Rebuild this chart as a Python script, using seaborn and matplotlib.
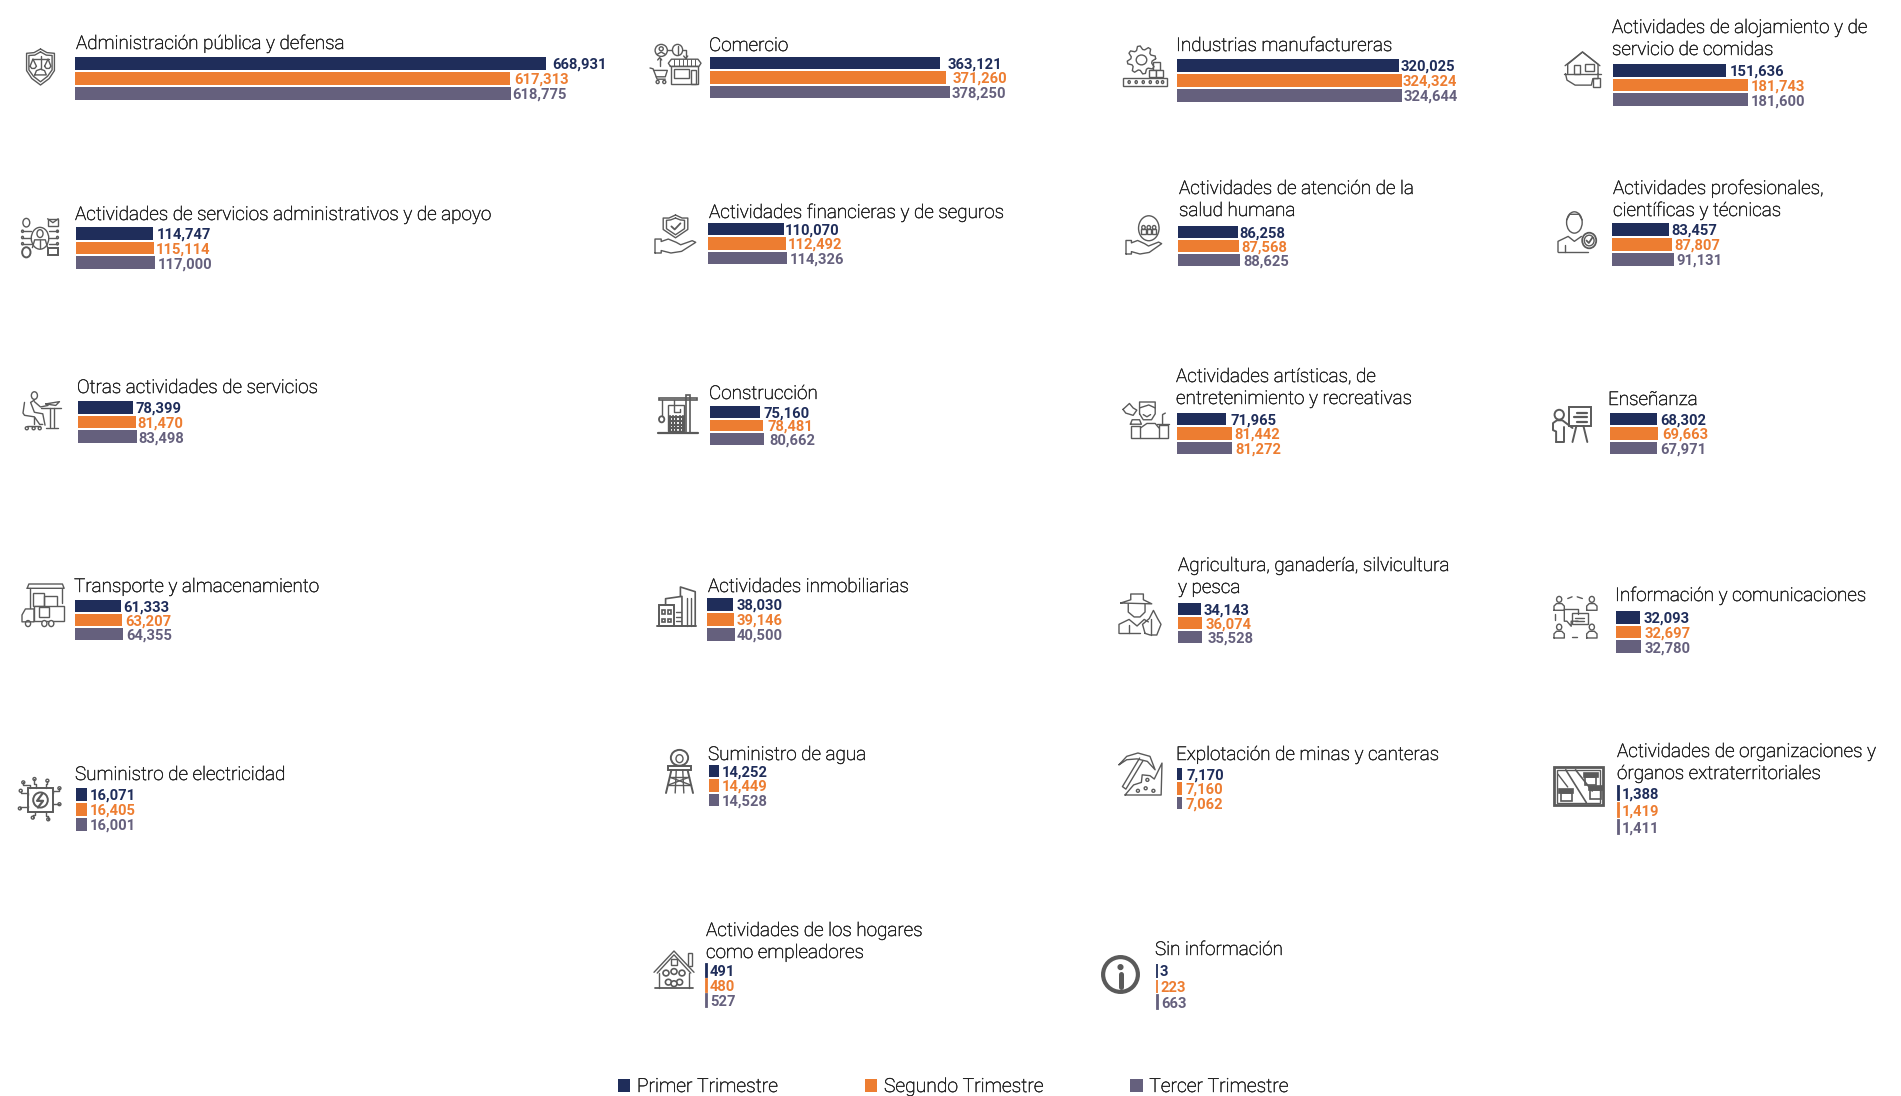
#!/usr/bin/env python3
# -*- coding: utf-8 -*-
"""
Personas ocupadas por actividad economica, tres trimestres
One small bar panel per sector, with a line icon on its left
"""

import numpy as np
import matplotlib
matplotlib.use('Agg')
import matplotlib.pyplot as plt
import matplotlib.patheffects as pe
from matplotlib.patches import Ellipse, Patch, Rectangle
import pandas as pd
import seaborn as sns

sns.set_theme(style='white')
plt.rcParams['font.family'] = ['Roboto', 'DejaVu Sans']

W, H = 1901, 1096

# --------------------------------------------------
# Data
# --------------------------------------------------
quarters = ['Primer Trimestre', 'Segundo Trimestre', 'Tercer Trimestre']
colors = ['#1F2D5A', '#ED7D31', '#65607D']

sectors = [
    'Administración pública y defensa', 'Comercio', 'Industrias manufactureras',
    'Actividades de alojamiento y de\nservicio de comidas',
    'Actividades de servicios administrativos y de apoyo',
    'Actividades financieras y de seguros',
    'Actividades de atención de la\nsalud humana',
    'Actividades profesionales,\ncientíficas y técnicas',
    'Otras actividades de servicios', 'Construcción',
    'Actividades artísticas, de\nentretenimiento y recreativas', 'Enseñanza',
    'Transporte y almacenamiento', 'Actividades inmobiliarias',
    'Agricultura, ganadería, silvicultura\ny pesca', 'Información y comunicaciones',
    'Suministro de electricidad', 'Suministro de agua', 'Explotación de minas y canteras',
    'Actividades de organizaciones y\nórganos extraterritoriales',
    'Actividades de los hogares\ncomo empleadores', 'Sin información',
]
q1 = [668931, 363121, 320025, 151636, 114747, 110070, 86258, 83457, 78399, 75160, 71965,
      68302, 61333, 38030, 34143, 32093, 16071, 14252, 7170, 1388, 491, 3]
q2 = [617313, 371260, 324324, 181743, 115114, 112492, 87568, 87807, 81470, 78481, 81442,
      69663, 63207, 39146, 36074, 32697, 16405, 14449, 7160, 1419, 480, 223]
q3 = [618775, 378250, 324644, 181600, 117000, 114326, 88625, 91131, 83498, 80662, 81272,
      67971, 64355, 40500, 35528, 32780, 16001, 14528, 7062, 1411, 527, 663]

# two labels in the source carry the orange colour on the third bar
orange_third = {'Actividades artísticas, de\nentretenimiento y recreativas',
                'Explotación de minas y canteras'}

# --------------------------------------------------
# Layout in pixels: bar left, bars top, bars bottom, longest bar, title left, title baseline
# --------------------------------------------------
layout = [
    (75, 57, 100, 471, 76, 49), (710, 57, 98, 240, 709, 51),
    (1177, 59, 102, 225, 1176, 51), (1613, 64, 106, 135, 1612, 55),
    (76, 227, 269, 79, 75, 220), (708, 223, 264, 79, 709, 218),
    (1178, 226, 266, 62, 1179, 216), (1612, 223, 266, 62, 1613, 216),
    (78, 401, 443, 59, 77, 393), (710, 406, 445, 54, 709, 399),
    (1177, 413, 454, 55, 1176, 404), (1610, 413, 454, 48, 1608, 405),
    (75, 600, 640, 48, 74, 592), (707, 598, 641, 28, 708, 592),
    (1178, 603, 643, 24, 1178, 593), (1616, 611, 653, 25, 1615, 601),
    (76, 788, 831, 11, 75, 780), (709, 765, 806, 10, 708, 760),
    (1177, 768, 809, 5, 1176, 760), (1618, 786, 834, 1, 1617, 779),
    (706, 964, 1007, 1, 706, 958), (1157, 964, 1009, 1, 1155, 955),
]
label_gaps = [
    (6, 5, 2), (7, 7, 2), (2, 1, 2), (4, 3, 3), (3, 2, 3), (1, 2, 3), (1, 2, 3), (3, 3, 2),
    (2, 2, 1), (3, 5, 5), (5, 2, 3), (3, 4, 3), (3, 3, 3), (3, 2, 2), (3, 4, 6), (3, 4, 4),
    (3, 3, 3), (3, 3, 3), (4, 4, 4), (3, 3, 3), (3, 3, 3), (3, 3, 3),
]
# icon boxes: left, top, right, bottom
icon_boxes = [
    (26, 49, 55, 85), (650, 44, 701, 84), (1123, 46, 1167, 87), (1564, 52, 1601, 88),
    (21, 218, 59, 257), (655, 215, 696, 253), (1126, 215, 1164, 254), (1558, 211, 1597, 252),
    (23, 391, 61, 429), (659, 395, 697, 433), (1123, 402, 1169, 439), (1553, 407, 1592, 442),
    (22, 584, 65, 627), (657, 587, 696, 626), (1119, 594, 1161, 635), (1554, 596, 1597, 638),
    (19, 779, 62, 821), (666, 749, 693, 793), (1119, 753, 1162, 795), (1554, 767, 1603, 807),
    (654, 951, 694, 989), (1102, 956, 1139, 993),
]

# --------------------------------------------------
# Icon helpers, every icon is sketched in a 0-100 box
# --------------------------------------------------
INK = '#5A5A5A'
LW = 1.0


def line(ax, *pts, lw=LW, closed=False):
    xs, ys = zip(*(list(pts) + [pts[0]] if closed else pts))
    ax.plot(xs, ys, color=INK, lw=lw, solid_capstyle='round', solid_joinstyle='round', clip_on=False)


def ring(ax, x, y, w, h=None, lw=LW, fill='none'):
    ax.add_patch(Ellipse((x, y), w, w if h is None else h, fc=fill, ec=INK, lw=lw, clip_on=False))


def box(ax, x, y, w, h, lw=LW, fill='none'):
    ax.add_patch(Rectangle((x, y), w, h, fc=fill, ec=INK, lw=lw, clip_on=False))


def hand(ax, x, y, s=1.0):
    pts = [(0, 0), (0, 34), (14, 34), (14, 28), (30, 34), (48, 26), (58, 20), (84, 30), (92, 26),
           (60, 4), (36, 0), (14, 6), (14, 0)]
    line(ax, *[(x + px * s, y + py * s) for px, py in pts], closed=True)


def person(ax, x, y, s=1.0):
    ring(ax, x + 12 * s, y + 26 * s, 12 * s, 14 * s)
    line(ax, (x, y), (x, y + 10 * s), (x + 6 * s, y + 16 * s), (x + 18 * s, y + 16 * s),
         (x + 24 * s, y + 10 * s), (x + 24 * s, y), closed=True)


def icon_shield(ax):
    line(ax, (50, 100), (72, 90), (98, 88), (98, 40), (80, 18), (50, 0), (20, 18), (2, 40), (2, 88), (28, 90), closed=True)
    line(ax, (50, 92), (70, 83), (90, 82), (90, 42), (74, 24), (50, 9), (26, 24), (10, 42), (10, 82), (30, 83), closed=True)
    line(ax, (22, 72), (78, 72))
    line(ax, (50, 80), (50, 44))
    line(ax, (14, 52), (24, 72), (36, 52), (30, 46), (20, 46), (14, 52))
    line(ax, (64, 52), (76, 72), (86, 52), (80, 46), (70, 46), (64, 52))
    line(ax, (30, 28), (36, 40), (50, 44), (64, 40), (70, 28), closed=True)


def icon_commerce(ax):
    ring(ax, 22, 84, 24, 30)
    ring(ax, 22, 88, 8, 10)
    line(ax, (14, 74), (22, 80), (30, 74))
    line(ax, (34, 85), (44, 85))
    ring(ax, 54, 85, 20, 28)
    line(ax, (54, 76), (54, 94))
    line(ax, (64, 85), (70, 85), (70, 66))
    line(ax, (66, 70), (70, 64), (74, 70))
    line(ax, (19, 44), (19, 66))
    line(ax, (15, 60), (19, 66), (23, 60))
    line(ax, (0, 40), (6, 38), (14, 12), (30, 12))
    line(ax, (7, 34), (34, 34), (30, 18), (12, 18))
    ring(ax, 15, 5, 6, 8)
    ring(ax, 28, 5, 6, 8)
    box(ax, 42, 0, 52, 44)
    line(ax, (40, 44), (36, 52), (42, 62), (94, 62), (100, 52), (96, 44), closed=True)
    for x in (48, 56, 64, 72, 80, 88):
        line(ax, (x, 44), (x, 62), lw=0.7)
    box(ax, 48, 14, 28, 24)
    box(ax, 80, 0, 10, 36)


def icon_gear(ax):
    ang = np.radians(np.arange(0, 360, 11.25) + 5)
    rad = np.tile([36, 36, 27, 27], 8)
    pts = [(42 + r * np.cos(a) * 0.9, 66 + r * 0.95 * np.sin(a)) for r, a in zip(rad, ang)]
    line(ax, *pts, closed=True)
    ring(ax, 42, 66, 24, 24)
    box(ax, 68, 42, 16, 18, fill='white')
    box(ax, 58, 24, 16, 18, fill='white')
    box(ax, 74, 24, 16, 18, fill='white')
    ax.add_patch(Rectangle((1, 2), 98, 20, fc='white', ec=INK, lw=LW, clip_on=False))
    for x in (14, 30, 46, 62, 78, 90):
        ring(ax, x, 12, 5, 7)


def icon_house_hand(ax):
    line(ax, (10, 40), (10, 66), (50, 100), (92, 66), (92, 40))
    line(ax, (3, 62), (50, 100), (97, 62))
    box(ax, 28, 40, 16, 24)
    box(ax, 58, 48, 22, 20)
    line(ax, (0, 40), (100, 40))
    line(ax, (4, 40), (8, 22), (30, 8), (74, 8), (78, 26), (92, 26), (92, 40))
    box(ax, 78, 2, 20, 26)


def icon_network(ax):
    ring(ax, 50, 48, 46, 56)
    ring(ax, 50, 60, 16, 20)
    line(ax, (30, 24), (36, 44), (64, 44), (70, 24))
    line(ax, (50, 44), (50, 24))
    ring(ax, 14, 88, 18, 22)
    box(ax, 70, 80, 28, 18)
    line(ax, (70, 98), (84, 88), (98, 98))
    ring(ax, 14, 12, 22, 26, lw=1.4)
    box(ax, 72, 4, 26, 18, lw=1.4)
    for y in (34, 50, 66):
        line(ax, (4, y), (26, y))
        line(ax, (74, y), (96, y))
        ring(ax, 4, y, 5, 6)
        ring(ax, 96, y, 5, 6)


def icon_hand_shield(ax):
    line(ax, (50, 100), (66, 92), (80, 92), (80, 62), (50, 40), (20, 62), (20, 92), (34, 92), closed=True)
    line(ax, (50, 92), (62, 87), (72, 86), (72, 64), (50, 48), (28, 64), (28, 86), (38, 87), closed=True)
    line(ax, (40, 70), (48, 62), (62, 78), lw=1.3)
    hand(ax, 0, 0, 1.08)


def icon_hand_care(ax):
    ring(ax, 60, 66, 54, 64)
    for x in (46, 60, 74):
        ring(ax, x, 68, 9, 10, lw=1.0)
        box(ax, x - 6, 52, 12, 12, lw=1.0)
    hand(ax, 0, 0, 1.02)


def icon_person_badge(ax):
    ring(ax, 42, 72, 40, 52)
    line(ax, (22, 78), (30, 92), (54, 92), (62, 78))
    line(ax, (0, 0), (0, 26), (26, 38), (42, 26), (60, 38))
    line(ax, (0, 0), (78, 0))
    line(ax, (18, 0), (18, 18))
    ring(ax, 80, 28, 36, 38, lw=1.3)
    ring(ax, 80, 28, 25, 26)
    line(ax, (73, 28), (79, 22), (88, 35), lw=1.3)


def icon_desk(ax):
    ring(ax, 30, 88, 16, 20)
    line(ax, (4, 70), (0, 42), (4, 36), (30, 32), (44, 12), (52, 12))
    line(ax, (30, 76), (20, 70), (30, 44), (52, 40), (58, 10))
    line(ax, (30, 72), (46, 58), (66, 62))
    line(ax, (48, 56), (100, 56))
    line(ax, (60, 66), (96, 72), (86, 62), closed=True)
    line(ax, (72, 54), (72, 4))
    line(ax, (82, 54), (82, 4))
    line(ax, (60, 2), (92, 2))
    line(ax, (28, 32), (28, 12))
    line(ax, (10, 8), (44, 8))
    ring(ax, 10, 2, 8, 8)
    ring(ax, 28, 2, 8, 8)
    ring(ax, 44, 2, 8, 8)


def icon_crane(ax):
    box(ax, 0, 86, 100, 7, lw=1.2)
    box(ax, 72, 0, 9, 100, lw=1.2)
    line(ax, (7, 86), (7, 44))
    ring(ax, 7, 36, 14, 16, lw=1.3)
    box(ax, 24, 6, 42, 68)
    for x in (30, 38, 46, 54, 62):
        line(ax, (x, 4), (x, 44), lw=1.5)
    for y in (12, 22, 32, 42):
        line(ax, (26, y), (64, y), lw=1.5)
    line(ax, (40, 86), (40, 54), (54, 54), (54, 64))
    line(ax, (-2, 0), (102, 0), lw=1.6)


def icon_art(ax):
    line(ax, (36, 68), (36, 100), (70, 100), (70, 68), (62, 52), (44, 52), closed=True)
    line(ax, (36, 84), (56, 92), (70, 84))
    line(ax, (44, 66), (52, 60), (60, 66))
    line(ax, (0, 80), (14, 96), (22, 84), (30, 78), (22, 64), (6, 70), closed=True)
    box(ax, 18, 2, 20, 34)
    line(ax, (16, 40), (20, 52), (36, 52), (40, 40), closed=True)
    box(ax, 78, 2, 20, 36)
    line(ax, (74, 40), (100, 40))
    line(ax, (86, 40), (86, 66), (92, 70))
    line(ax, (38, 30), (52, 42), (70, 42), (78, 30))
    line(ax, (38, 2), (78, 2))


def icon_teacher(ax):
    box(ax, 40, 46, 58, 54, lw=1.4)
    for y, x0 in ((82, 62), (70, 54), (58, 62)):
        line(ax, (x0, y), (88, y), lw=1.6)
    line(ax, (60, 46), (50, 0), lw=1.4)
    line(ax, (78, 46), (88, 0), lw=1.4)
    ring(ax, 16, 78, 24, 28, lw=1.4)
    line(ax, (8, 0), (8, 30), (0, 34), (0, 54), (10, 62), (24, 62), (50, 40), lw=1.4)
    line(ax, (8, 0), (28, 0), (28, 44), lw=1.4)


def icon_truck(ax):
    line(ax, (12, 90), (16, 100), (94, 100), (98, 90), closed=True)
    line(ax, (18, 90), (18, 44))
    line(ax, (92, 90), (92, 56))
    box(ax, 26, 50, 26, 30)
    box(ax, 50, 46, 32, 26)
    box(ax, 28, 14, 70, 34, fill='white')
    box(ax, 40, 24, 22, 22)
    line(ax, (28, 14), (28, 42), (8, 42), (0, 28), (0, 12), (28, 12))
    ring(ax, 14, 8, 12, 14, fill='white')
    ring(ax, 52, 8, 12, 14, fill='white')
    ring(ax, 68, 8, 12, 14, fill='white')


def icon_buildings(ax):
    line(ax, (0, 0), (100, 0), lw=1.4)
    box(ax, 4, 0, 40, 54, lw=1.4)
    for x in (12, 28):
        for y in (10, 32):
            box(ax, x, y, 9, 9, lw=1.2)
    line(ax, (22, 54), (22, 70), (64, 76), (64, 0), lw=1.2)
    line(ax, (60, 76), (60, 100), (98, 88), (98, 0), lw=1.2)
    line(ax, (76, 72), (76, 0))
    line(ax, (86, 72), (86, 0))
    for y in (12, 24, 36):
        line(ax, (48, y), (62, y))


def icon_farmer(ax):
    line(ax, (4, 78), (28, 86), (28, 100), (58, 100), (58, 86), (78, 76), closed=True)
    line(ax, (22, 76), (22, 56), (36, 44), (50, 44), (62, 56), (62, 76))
    line(ax, (0, 4), (0, 26), (24, 38), (43, 22), (60, 38), (70, 32))
    line(ax, (0, 4), (50, 4))
    line(ax, (24, 4), (24, 24))
    line(ax, (62, 4), (56, 26), (72, 40), (82, 60), (92, 40), (100, 26), (90, 0), (74, 0), closed=True)
    line(ax, (76, 0), (76, 38))


def icon_people_chat(ax):
    for x, y in ((0, 66), (76, 66), (0, 0), (76, 0)):
        person(ax, x, y, 1.0)
    line(ax, (32, 94), (42, 98))
    line(ax, (54, 98), (66, 94))
    line(ax, (2, 42), (2, 56))
    line(ax, (42, 2), (54, 2))
    line(ax, (24, 68), (24, 40), (30, 40), (40, 28), (40, 40), (56, 40))
    line(ax, (24, 68), (56, 68), (56, 58))
    box(ax, 42, 34, 36, 26)
    line(ax, (48, 48), (70, 48))
    line(ax, (48, 40), (70, 40))


def icon_chip(ax):
    box(ax, 22, 22, 56, 56, lw=1.4)
    ring(ax, 50, 50, 34, 36, lw=1.4)
    line(ax, (55, 66), (42, 48), (56, 48), (44, 32), lw=1.6)
    tips = ((10, 92), (36, 100), (66, 96), (94, 78), (94, 40), (68, 4), (32, 8), (2, 30), (4, 72))
    ends = ((26, 78), (40, 78), (62, 78), (78, 66), (78, 40), (62, 22), (38, 22), (22, 36), (22, 62))
    for (x, y), (ex, ey) in zip(tips, ends):
        line(ax, (x, y), (x, (y + ey) / 2), (ex, (y + ey) / 2), (ex, ey))
        ring(ax, x, y, 7, 7, fill='white')


def icon_tower(ax):
    ring(ax, 50, 80, 64, 36, lw=1.4)
    ring(ax, 50, 78, 26, 18)
    box(ax, 8, 52, 84, 10, lw=1.4)
    line(ax, (20, 52), (0, 0), lw=1.4)
    line(ax, (80, 52), (100, 0), lw=1.4)
    line(ax, (38, 52), (34, 0))
    line(ax, (62, 52), (66, 0))
    line(ax, (14, 36), (86, 36))
    line(ax, (8, 18), (92, 18))
    line(ax, (14, 36), (92, 18))
    line(ax, (86, 36), (8, 18))


def icon_pick(ax):
    line(ax, (0, 72), (18, 92), (44, 100), (72, 92), (84, 60), (66, 80), (42, 86), (18, 84), closed=True)
    line(ax, (48, 88), (8, 20), (16, 14), (56, 82))
    line(ax, (14, 0), (34, 24), (52, 30), (54, 48), (72, 46), (82, 38), (100, 76), (98, 0), closed=True)
    for x, y in ((44, 10), (62, 16), (80, 10), (66, 36)):
        ring(ax, x, y, 7, 7)


def icon_map(ax):
    box(ax, 0, 4, 100, 96, lw=2.0)
    box(ax, 7, 11, 86, 82)
    line(ax, (24, 93), (66, 11), lw=1.2)
    line(ax, (44, 93), (78, 40), lw=1.2)
    line(ax, (8, 82), (28, 50))
    for x, y in ((10, 14), (60, 54), (70, 20)):
        box(ax, x + 4, y, 22, 22, lw=1.2)
        box(ax, x + 1, y + 22, 28, 10, lw=1.2, fill=INK)


def icon_home_family(ax):
    line(ax, (0, 44), (50, 100), (100, 44))
    line(ax, (8, 42), (50, 90), (92, 42))
    line(ax, (12, 42), (12, 2))
    line(ax, (88, 42), (88, 2))
    line(ax, (2, 2), (98, 2), lw=1.3)
    box(ax, 84, 60, 10, 34)
    box(ax, 42, 64, 16, 16)
    for x, y in ((30, 42), (50, 46), (70, 42), (36, 18), (64, 18), (50, 14)):
        ring(ax, x, y, 15, 15, lw=1.2, fill='white')


def icon_info(ax):
    ring(ax, 50, 50, 94, 94, lw=3.0)
    line(ax, (50, 16), (50, 52), lw=3.6)
    ring(ax, 50, 70, 9, 9, lw=2.0, fill=INK)


icons = [
    icon_shield, icon_commerce, icon_gear, icon_house_hand,
    icon_network, icon_hand_shield, icon_hand_care, icon_person_badge,
    icon_desk, icon_crane, icon_art, icon_teacher,
    icon_truck, icon_buildings, icon_farmer, icon_people_chat,
    icon_chip, icon_tower, icon_pick, icon_map,
    icon_home_family, icon_info,
]

# --------------------------------------------------
# Figure
# --------------------------------------------------
fig = plt.figure(figsize=(W / 100, H / 100), dpi=100, facecolor='white')
BAR = 0.86
# Roboto Light renders too faint here, a hairline stroke brings it up to the source
darker = [pe.withStroke(linewidth=0.35, foreground='#222222')]

for i, sector in enumerate(sectors):
    left, top, bottom, longest, title_x, title_y = layout[i]
    values = [q1[i], q2[i], q3[i]]
    frame = pd.DataFrame({'trimestre': quarters, 'personas': values})

    ax = fig.add_axes([left / W, 1 - bottom / H, longest / W, (bottom - top) / H])
    sns.barplot(data=frame, x='personas', y='trimestre', hue='trimestre', palette=colors,
                hue_order=quarters, width=BAR, dodge=False, legend=False, saturation=1,
                linewidth=0, ax=ax)
    if max(values) < 2000:
        # hairline bars still show in the source, even for very small values
        for patch, color in zip(ax.patches, colors):
            patch.set_edgecolor(color)
            patch.set_linewidth(1.3)
            patch.set_clip_on(False)
    ax.set_xlim(0, max(values))
    ax.set_ylim(2 + BAR / 2, -BAR / 2)
    ax.axis('off')

    for j, value in enumerate(values):
        label_color = colors[j]
        if j == 2 and sector in orange_third:
            label_color = colors[1]
        ax.annotate(f'{value:,}', xy=(value, j), xytext=(label_gaps[i][j], 0),
                    textcoords='offset pixels', ha='left', va='center_baseline',
                    color=label_color, fontsize=10.6, fontweight='bold', annotation_clip=False)

    # title lines are placed by hand, the last one sits on the measured baseline
    for k, text in enumerate(reversed(sector.split('\n'))):
        fig.text(title_x / W, 1 - (title_y - 22 * k) / H, text, ha='left', va='baseline',
                 color='#222222', fontsize=13.6, fontweight='light', path_effects=darker)

    x0, y0, x1, y1 = icon_boxes[i]
    icon_ax = fig.add_axes([x0 / W, 1 - y1 / H, (x1 - x0) / W, (y1 - y0) / H])
    icon_ax.set_xlim(0, 100)
    icon_ax.set_ylim(0, 100)
    icon_ax.axis('off')
    icons[i](icon_ax)

handles = [Patch(facecolor=c, edgecolor='none', label=q) for c, q in zip(colors, quarters)]
legend = fig.legend(handles=handles, loc='lower left', bbox_to_anchor=(618 / W, 1 - 1096 / H), ncol=3,
                    frameon=False, prop={'family': 'Roboto', 'weight': 'light', 'size': 13.9},
                    labelcolor='#222222', handlelength=0.63, handleheight=0.63, handletextpad=0.35,
                    columnspacing=4.5, borderpad=0, borderaxespad=0)
for text in legend.get_texts():
    text.set_path_effects(darker)

plt.savefig('out.png', dpi=100, facecolor='white')
